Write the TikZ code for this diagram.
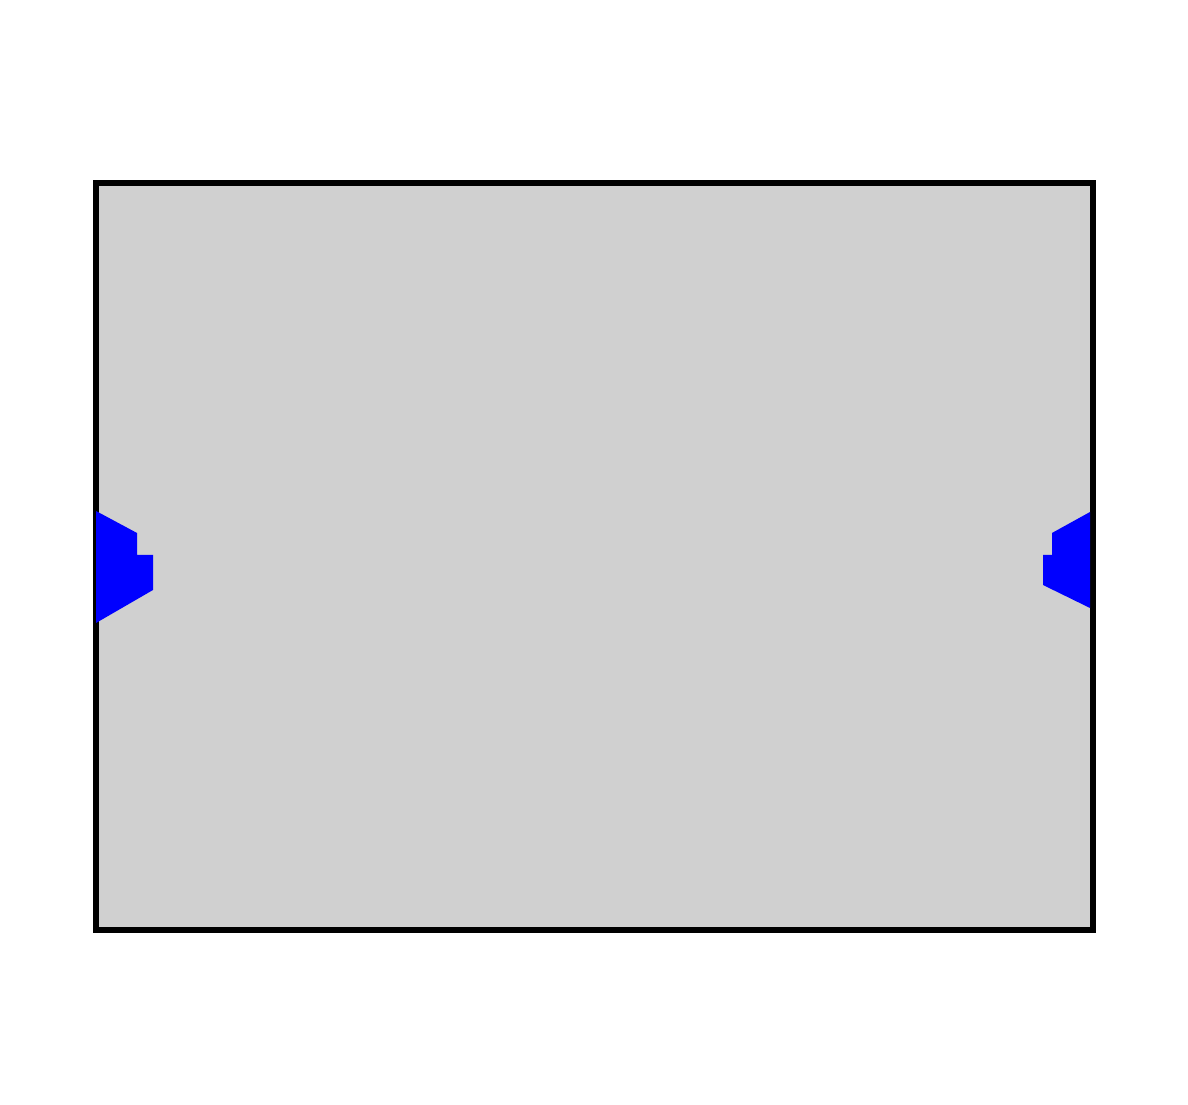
\documentclass[tikz,border=0pt]{standalone}
\usetikzlibrary{positioning}
\definecolor{blockgray}{RGB}{208,208,208}
\definecolor{portblue}{RGB}{0,0,255}
\tikzset{
  block/.style={draw=black,fill=blockgray,line width=1.6pt,inner sep=0pt,
    outer sep=0pt,minimum width=9.97cm,minimum height=7.47cm},
  % ports
  pics/inport/.style={code={
    \fill[#1] (0,0.455) -- (0.41,0.235) -- (0.41,0.015) -- (0.57,0.015)
      -- (0.57,-0.335) -- (0,-0.665) -- cycle;
  }},
  pics/inport/.default=portblue,
  pics/outport/.style={code={
    \fill[#1] (-0.03,0.445) -- (-0.41,0.235) -- (-0.41,0.015) -- (-0.50,0.015)
      -- (-0.50,-0.285) -- (-0.03,-0.515) -- cycle;
  }},
  pics/outport/.default=portblue,
}
\begin{document}
\begin{tikzpicture}
  \useasboundingbox (0,0) rectangle (11.88,11.05);
  \node[block] (blk) at (5.945,5.485) {};
  \pic at (blk.west) {inport};
  \pic at (blk.east) {outport};
\end{tikzpicture}
\end{document}
